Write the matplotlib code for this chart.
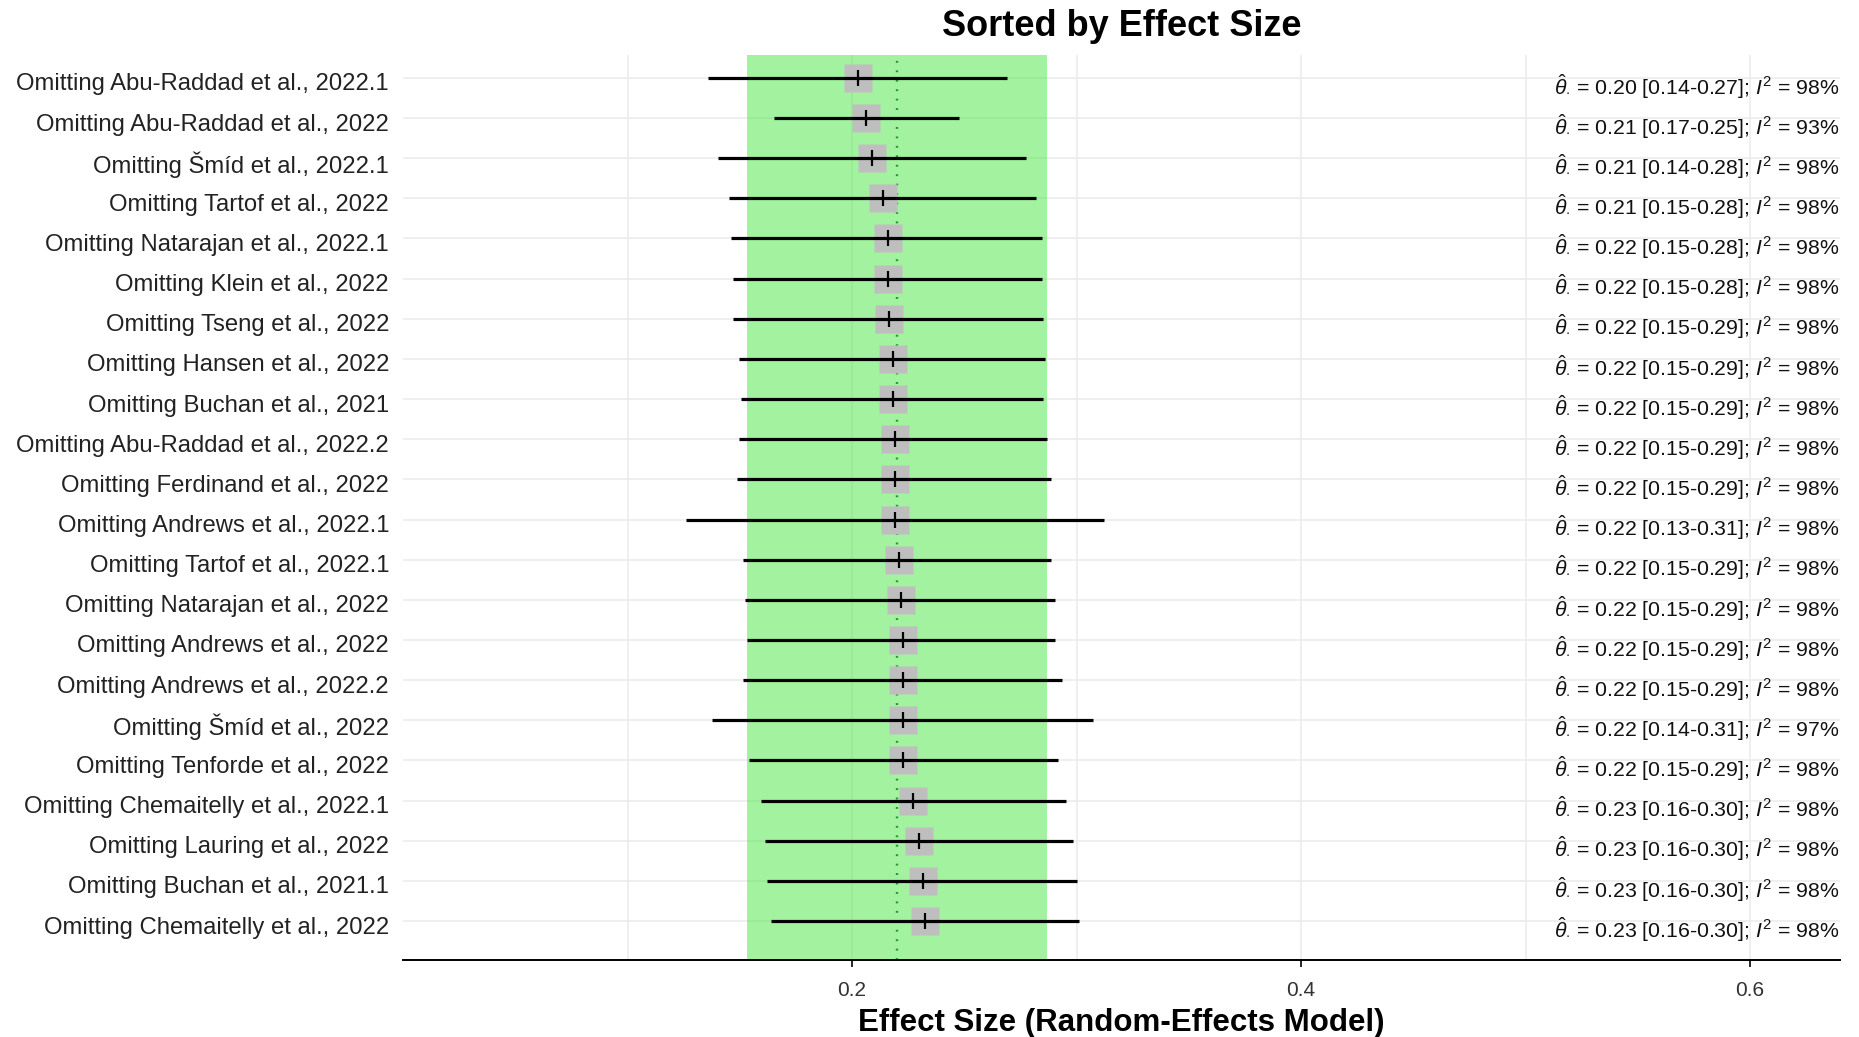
import matplotlib
matplotlib.use("Agg")
import matplotlib.pyplot as plt
from matplotlib.transforms import ScaledTranslation
import numpy as np

plt.rcParams['font.family'] = ['Liberation Sans', 'DejaVu Sans']
plt.rcParams['mathtext.fontset'] = 'custom'
plt.rcParams['mathtext.rm'] = 'Liberation Sans'
plt.rcParams['mathtext.it'] = 'Liberation Sans:italic'
plt.rcParams['mathtext.bf'] = 'Liberation Sans:bold'

# ---------------- data (top to bottom) ----------------
labels = [
    "Omitting Abu-Raddad et al., 2022.1",
    "Omitting Abu-Raddad et al., 2022",
    "Omitting Šmíd et al., 2022.1",
    "Omitting Tartof et al., 2022",
    "Omitting Natarajan et al., 2022.1",
    "Omitting Klein et al., 2022",
    "Omitting Tseng et al., 2022",
    "Omitting Hansen et al., 2022",
    "Omitting Buchan et al., 2021",
    "Omitting Abu-Raddad et al., 2022.2",
    "Omitting Ferdinand et al., 2022",
    "Omitting Andrews et al., 2022.1",
    "Omitting Tartof et al., 2022.1",
    "Omitting Natarajan et al., 2022",
    "Omitting Andrews et al., 2022",
    "Omitting Andrews et al., 2022.2",
    "Omitting Šmíd et al., 2022",
    "Omitting Tenforde et al., 2022",
    "Omitting Chemaitelly et al., 2022.1",
    "Omitting Lauring et al., 2022",
    "Omitting Buchan et al., 2021.1",
    "Omitting Chemaitelly et al., 2022",
]
estimate = [0.2026, 0.2062, 0.2087, 0.2140, 0.2158, 0.2158, 0.2166, 0.2183,
            0.2183, 0.2192, 0.2192, 0.2192, 0.2210, 0.2219, 0.2228, 0.2228,
            0.2228, 0.2228, 0.2271, 0.2298, 0.2316, 0.2325]
lower = [0.1357, 0.1652, 0.1401, 0.1452, 0.1462, 0.1471, 0.1471, 0.1497,
         0.1506, 0.1497, 0.1488, 0.1261, 0.1514, 0.1523, 0.1532, 0.1514,
         0.1375, 0.1541, 0.1595, 0.1612, 0.1621, 0.1639]
upper = [0.2688, 0.2477, 0.2774, 0.2818, 0.2844, 0.2844, 0.2852, 0.2861,
         0.2852, 0.2870, 0.2888, 0.3124, 0.2888, 0.2906, 0.2906, 0.2933,
         0.3072, 0.2915, 0.2952, 0.2985, 0.3002, 0.3011]
i2 = [98, 93, 98, 98, 98, 98, 98, 98, 98, 98, 98, 98, 98, 98, 98, 98,
      97, 98, 98, 98, 98, 98]

pooled_est = 0.22
pooled_lower = 0.1533
pooled_upper = 0.2867

title = "Sorted by Effect Size"
xlabel = "Effect Size (Random-Effects Model)"
xticks = [0.2, 0.4, 0.6]
xtick_labels = ["0.2", "0.4", "0.6"]
text_x = 0.5125

# ---------------- plot ----------------
n = len(labels)
ypos = np.arange(n, 0, -1)  # top row gets highest y

fig = plt.figure(figsize=(18.59, 10.37), dpi=100)
ax = fig.add_axes([403/1859, 1 - 960/1037, (1840-403)/1859, (960-55)/1037])

ax.set_xlim(0.0, 0.64)
ax.set_ylim(0.03, n + 0.57)

# grid
for gx in [0.1, 0.2, 0.3, 0.4, 0.5, 0.6]:
    ax.axvline(gx, color='#ebebeb', lw=1.1, zorder=0)
for gy in ypos:
    ax.axhline(gy, color='#ebebeb', lw=1.1, zorder=0)

# pooled band + line
ax.axvspan(pooled_lower, pooled_upper, color=(71/255, 231/255, 65/255),
           alpha=0.5, lw=0, zorder=1)
ax.axvline(pooled_est, color='#2a9530', lw=1.7, ls=(0, (0.8, 3.2)), zorder=2)

# squares
ax.plot(estimate, ypos, ls='none', marker='s', ms=19.5, mfc='#bebebe',
        mec='none', zorder=3)
# CIs
ax.hlines(ypos, lower, upper, color='black', lw=2.3, zorder=4)
# point tick
ax.plot(estimate, ypos, ls='none', marker='|', ms=11.5, mew=1.6,
        color='black', zorder=5)

# annotations
for y, e, lo, hi, ii in zip(ypos, estimate, lower, upper, i2):
    s = (r"$\hat{\theta}_{\cdot}$ = " + f"{e:.2f} [{lo:.2f}-{hi:.2f}]; "
         + r"$I^2$" + f" = {ii}%")
    ax.annotate(s, xy=(text_x, y), xytext=(0, -12), textcoords='offset points',
                ha='left', va='baseline', fontsize=15.3, color='#111111',
                zorder=6, annotation_clip=False)

ax.set_yticks(ypos)
ax.set_yticklabels(labels, fontsize=17.2, color='#222222')
ax.tick_params(axis='y', length=0, pad=10)
shift = ScaledTranslation(0, -4/100, fig.dpi_scale_trans)
for lab in ax.get_yticklabels():
    lab.set_transform(lab.get_transform() + shift)

ax.set_xticks(xticks)
ax.set_xticklabels(xtick_labels, fontsize=15, color='#333333')
ax.tick_params(axis='x', length=5, width=1.2, color='black', pad=10)

for side in ['left', 'right', 'top']:
    ax.spines[side].set_visible(False)
ax.spines['bottom'].set_color('black')
ax.spines['bottom'].set_linewidth(1.4)
ax.spines['bottom'].set_zorder(7)

ax.set_title(title, fontsize=26, fontweight='bold', pad=14)
ax.set_xlabel(xlabel, fontsize=22.5, fontweight='bold', labelpad=6)

fig.savefig("out.png", dpi=100)
